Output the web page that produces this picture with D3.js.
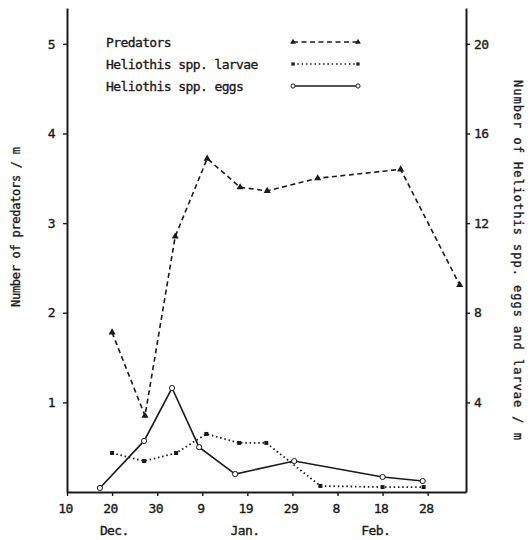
<!DOCTYPE html>
<html>
<head>
<meta charset="utf-8">
<script src="https://cdn.jsdelivr.net/npm/d3@7"></script>
<style>
  body { margin: 0; background: #fff; }
  svg { display: block; }
  text { font-family: "DejaVu Sans Mono", "Liberation Mono", monospace; fill: #1a1a1a; stroke: #1a1a1a; stroke-width: 0.35px; }
</style>
</head>
<body>
<svg id="chart" width="531" height="540"></svg>
<script>
// ---- Data (days counted from 10 Dec) ----
const xTickDays   = [0, 10, 20, 30, 40, 50, 60, 70, 80];
const xTickLabels = ["10", "20", "30", "9", "19", "29", "8", "18", "28"];
const monthNames  = ["Dec.", "Jan.", "Feb."];
const monthDays   = [10.5, 39.5, 68.5];

const leftTicks  = [1, 2, 3, 4, 5];
const rightTicks = [4, 8, 12, 16, 20];

const predatorDays   = [10, 17.3, 24, 31.1, 38.4, 44.4, 55.6, 74, 87.1];
const predatorValues = [1.78, 0.85, 2.85, 3.72, 3.40, 3.36, 3.50, 3.60, 2.31];

const larvaeDays   = [10, 17.1, 24.2, 30.9, 38.2, 44.2, 56.2, 70, 79.1];
const larvaeValues = [1.74, 1.38, 1.74, 2.59, 2.19, 2.19, 0.27, 0.22, 0.22];

const eggDays   = [7.3, 17.1, 23.3, 29.3, 37.3, 50.4, 70, 78.9];
const eggValues = [0.18, 2.28, 4.64, 2.00, 0.80, 1.38, 0.67, 0.49];

const legendLabels = ["Predators", "Heliothis spp. larvae", "Heliothis spp. eggs"];

// ---- Chart ----
const svg = d3.select("#chart");
const ink = "#1a1a1a";

const x  = d3.scaleLinear().domain([0, 88.5]).range([67, 466]);
const yL = d3.scaleLinear().domain([0, 5.4]).range([492, 8]);
const yR = d3.scaleLinear().domain([0, 21.6]).range([492, 8]);

function styleAxis(g) {
  g.selectAll("path.domain").attr("stroke", ink).attr("stroke-width", 2);
  g.selectAll(".tick line").attr("stroke", ink).attr("stroke-width", 1.4);
  g.selectAll(".tick text")
    .attr("font-family", "DejaVu Sans Mono")
    .attr("font-size", 13)
    .attr("letter-spacing", "-0.6px")
    .attr("fill", ink);
}

// Left axis
const gL = svg.append("g").attr("transform", "translate(67,0)")
  .call(d3.axisLeft(yL).tickValues(leftTicks).tickSize(4).tickSizeOuter(0)
    .tickPadding(8).tickFormat(d3.format("d")));
styleAxis(gL);

// Right axis
const gR = svg.append("g").attr("transform", "translate(466,0)")
  .call(d3.axisRight(yR).tickValues(rightTicks).tickSize(4).tickSizeOuter(0)
    .tickPadding(4).tickFormat(d3.format("d")));
styleAxis(gR);

// Bottom axis
const gB = svg.append("g").attr("transform", "translate(0,492)")
  .call(d3.axisBottom(x).tickValues(xTickDays).tickSize(4).tickSizeOuter(0)
    .tickPadding(8).tickFormat((d, i) => xTickLabels[i]));
styleAxis(gB);
gB.selectAll(".tick text").attr("dx", "-2");

// Month labels
svg.append("g").selectAll("text").data(monthNames).join("text")
  .attr("x", (d, i) => x(monthDays[i]))
  .attr("y", 535)
  .attr("text-anchor", "middle")
  .attr("font-size", 13)
  .attr("letter-spacing", "-0.6px")
  .text(d => d);

// Axis titles
svg.append("text")
  .attr("transform", "translate(20,227) rotate(-90)")
  .attr("text-anchor", "middle")
  .attr("font-size", 12)
  .attr("textLength", 160)
  .attr("lengthAdjust", "spacing")
  .text("Number of predators / m");

svg.append("text")
  .attr("transform", "translate(514,260) rotate(90)")
  .attr("text-anchor", "middle")
  .attr("font-size", 12)
  .attr("textLength", 360)
  .attr("lengthAdjust", "spacing")
  .text("Number of Heliothis spp. eggs and larvae / m");

// Series definitions
const series = [
  { days: predatorDays, values: predatorValues, y: yL, dash: "5,3.5", marker: "triangle" },
  { days: larvaeDays,   values: larvaeValues,   y: yR, dash: "1.5,2.8", marker: "square" },
  { days: eggDays,      values: eggValues,      y: yR, dash: null,    marker: "circle" }
];

const symTri = d3.symbol().type(d3.symbolTriangle).size(22);
const symSq  = d3.symbol().type(d3.symbolSquare).size(16);

function drawMarker(g, type, cx, cy, scale) {
  const k = scale || 1;
  if (type === "triangle") {
    g.append("path").attr("d", symTri()).attr("transform", `translate(${cx},${cy}) scale(${k})`)
      .attr("fill", ink);
  } else if (type === "square") {
    g.append("path").attr("d", symSq()).attr("transform", `translate(${cx},${cy}) scale(${k})`)
      .attr("fill", ink);
  } else {
    g.append("circle").attr("cx", cx).attr("cy", cy).attr("r", 2.6 * k)
      .attr("fill", "#fff").attr("stroke", ink).attr("stroke-width", 1);
  }
}

series.forEach(s => {
  const pts = s.days.map((d, i) => [x(d), s.y(s.values[i])]);
  const line = d3.line();
  svg.append("path")
    .attr("d", line(pts))
    .attr("fill", "none")
    .attr("stroke", ink)
    .attr("stroke-width", s.marker === "square" ? 1.8 : 1.6)
    .attr("stroke-dasharray", s.dash);
  const mg = svg.append("g");
  pts.forEach(p => drawMarker(mg, s.marker, p[0], p[1]));
});

// Legend
const legend = svg.append("g");
legendLabels.forEach((lab, i) => {
  const by = 47 + i * 22;
  legend.append("text")
    .attr("x", 106).attr("y", by)
    .attr("font-size", 13)
    .attr("letter-spacing", "-0.6px")
    .text(lab);
  const ly = by - 5;
  const s = series[i];
  legend.append("line")
    .attr("x1", 293).attr("x2", 358).attr("y1", ly).attr("y2", ly)
    .attr("stroke", ink)
    .attr("stroke-width", s.marker === "square" ? 1.6 : 1.4)
    .attr("stroke-dasharray", s.dash);
  drawMarker(legend, s.marker, 293, ly, 0.8);
  drawMarker(legend, s.marker, 358, ly, 0.8);
});
</script>
</body>
</html>
